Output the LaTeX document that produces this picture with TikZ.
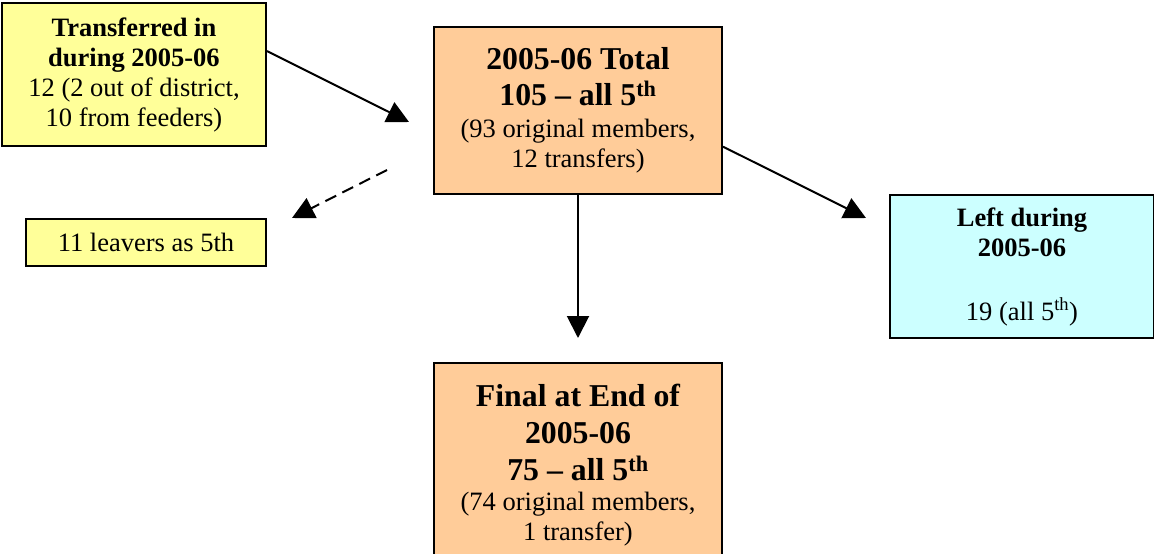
\documentclass[tikz,border=0pt]{standalone}
\usepackage{fontspec}
\setmainfont{Liberation Serif}
\usetikzlibrary{arrows.meta}

\definecolor{lightyellow}{HTML}{FFFF99}
\definecolor{peach}{HTML}{FFCC99}
\definecolor{lightcyan}{HTML}{CCFFFF}

\newcommand{\txt}{\fontsize{26.5}{30}\selectfont}
\newcommand{\headtxt}{\fontsize{31.8}{36}\selectfont\bfseries}

\tikzset{
  box/.style={draw, line width=2pt, align=center, inner sep=0pt, font=\txt},
  flow/.style={line width=2pt, -{Triangle[length=22pt,width=22pt]}}
}

\begin{document}
\begin{tikzpicture}[x=1pt,y=-1pt]
  \useasboundingbox (0,0) rectangle (1154,554);

  % Boxes
  \node[box, fill=lightyellow, minimum width=264pt, minimum height=143pt] (trin) at (134,74.5)
    {\textbf{Transferred in}\\\textbf{during 2005-06}\\12 (2 out of district,\\10 from feeders)};
  \node[box, fill=peach, minimum width=288pt, minimum height=167pt] (total) at (578,110.5)
    {\headtxt 2005-06 Total\\[6pt]\headtxt 105 -- all 5\textsuperscript{th}\\[2pt](93 original members,\\12 transfers)};
  \node[box, fill=lightyellow, minimum width=240pt, minimum height=47pt] (leavers) at (146,242.5)
    {11 leavers as 5th};
  \node[box, fill=lightcyan, minimum width=264pt, minimum height=143pt] (left) at (1022,266.5)
    {\textbf{Left during}\\\textbf{2005-06}\\[34pt]19 (all 5\textsuperscript{th})};
  \node[box, fill=peach, minimum width=288pt, minimum height=204pt] (final) at (578,465)
    {\headtxt Final at End of\\[7pt]\headtxt 2005-06\\[7pt]\headtxt 75 -- all 5\textsuperscript{th}\\(74 original members,\\1 transfer)};

  % Free arrow ends
  \coordinate (intip) at (409,122);
  \coordinate (dashfrom) at (387,170);
  \coordinate (dashtip) at (292,218);
  \coordinate (lefttip) at (866,218);
  \coordinate (finaltip) at (578,338);

  % Arrows
  \draw[flow] (trin.10) -- (intip);
  \draw[flow, dash pattern=on 12pt off 7pt] (dashfrom) -- (dashtip);
  \draw[flow] (total.-14) -- (lefttip);
  \draw[flow] (total.south) -- (finaltip);
\end{tikzpicture}
\end{document}
